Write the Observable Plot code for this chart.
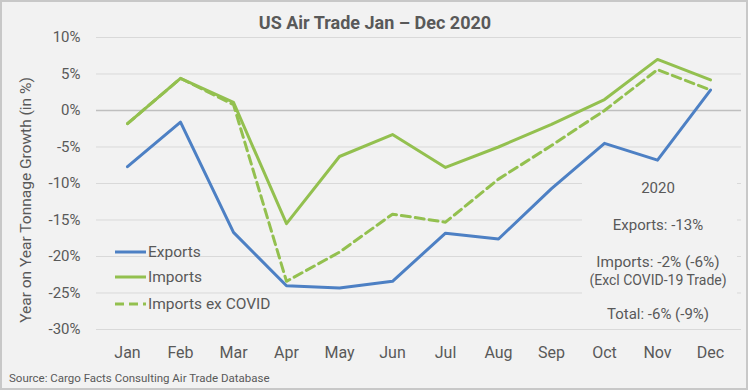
<!DOCTYPE html>
<html>
<head>
<meta charset="utf-8">
<script src="https://cdn.jsdelivr.net/npm/d3@7"></script>
<script src="https://cdn.jsdelivr.net/npm/@observablehq/plot@0.6"></script>
<style>
  html, body { margin: 0; padding: 0; background: #ffffff; }
  body { width: 750px; height: 392px; position: relative; overflow: hidden; font-family: Roboto, "Noto Sans", sans-serif; color: #595959; }
  #frame { position: absolute; left: 0; top: 0; width: 748px; height: 390px; box-sizing: border-box; border: 2px solid #c8c8c8; background: #f2f2f2; }
  #chart { position: absolute; left: 0; top: 0; }
  .abs { position: absolute; white-space: nowrap; line-height: 1; }
  #title { left: 0; width: 750px; top: 14px; text-align: center; font-weight: bold; font-size: 18px; color: #595959; }
  #ylabel { left: 27px; top: 200px; transform: translate(-50%, -50%) rotate(-90deg); font-size: 15.5px; }
  #source { left: 9px; top: 373px; font-size: 11.5px; }
  #legend .item { position: absolute; left: 115px; height: 20px; display: flex; align-items: center; font-size: 15.5px; }
  #legend svg { display: block; margin-right: 2px; }
  #mask { position: absolute; left: 582px; top: 170px; width: 155px; height: 150px; background: #f2f2f2; }
  .ann { position: absolute; left: 658px; transform: translate(-50%, -50%); font-size: 15px; white-space: nowrap; line-height: 1; }
</style>
</head>
<body>
<div id="frame"></div>
<div id="chart"></div>
<div id="mask"></div>
<div id="title" class="abs"></div>
<div id="ylabel" class="abs"></div>
<div id="source" class="abs"></div>
<div id="legend"></div>
<div id="annot"></div>
<script>
const months = ["Jan", "Feb", "Mar", "Apr", "May", "Jun", "Jul", "Aug", "Sep", "Oct", "Nov", "Dec"];
const exportsGrowth = [-7.7, -1.6, -16.7, -24.0, -24.3, -23.4, -16.8, -17.6, -10.7, -4.5, -6.8, 2.8];
const importsGrowth = [-1.8, 4.4, 1.1, -15.5, -6.3, -3.3, -7.8, -5.0, -1.9, 1.5, 7.0, 4.2];
const importsExCovidGrowth = [-1.8, 4.4, 0.8, -23.4, -19.4, -14.2, -15.3, -9.4, -4.8, 0.0, 5.6, 2.8];
const yTicks = [10, 5, 0, -5, -10, -15, -20, -25, -30];

const seriesNames = ["Exports", "Imports", "Imports ex COVID"];
const seriesColors = ["#4d80c4", "#93c04f", "#93c04f"];
const seriesDash = [null, null, "9,5"];

const titleText = "US Air Trade Jan \u2013 Dec 2020";
const yLabelText = "Year on Year Tonnage Growth (in %)";
const sourceText = "Source: Cargo Facts Consulting Air Trade Database";
const annotLines = ["2020", "Exports: -13%", "Imports: -2% (-6%)", "(Excl COVID-19 Trade)", "Total: -6% (-9%)"];

const toRows = (vals) => months.map((m, i) => ({month: m, value: vals[i]}));
const exportsRows = toRows(exportsGrowth);
const importsRows = toRows(importsGrowth);
const exCovidRows = toRows(importsExCovidGrowth);

const chart = Plot.plot({
  width: 750,
  height: 392,
  marginLeft: 96,
  marginRight: 9,
  marginTop: 37,
  marginBottom: 63,
  style: {background: "transparent", fontFamily: "Roboto, sans-serif", fontSize: "15px", color: "#595959", overflow: "visible"},
  x: {type: "point", domain: months, padding: 0.5, label: null},
  y: {domain: [-30, 10], label: null},
  marks: [
    Plot.ruleY(yTicks, {stroke: "#d9d9d9", strokeWidth: 1}),
    Plot.ruleY([0], {stroke: "#bfbfbf", strokeWidth: 1.5}),
    Plot.axisX({tickSize: 0, tickPadding: 17, label: null, fill: "#595959", fontSize: 16}),
    Plot.axisY({ticks: yTicks, tickSize: 0, tickPadding: 16, tickFormat: d => d + "%", label: null, fill: "#595959", fontSize: 15}),
    Plot.line(exportsRows, {x: "month", y: "value", stroke: seriesColors[0], strokeWidth: 3}),
    Plot.line(exCovidRows, {x: "month", y: "value", stroke: seriesColors[2], strokeWidth: 3, strokeDasharray: seriesDash[2]}),
    Plot.line(importsRows, {x: "month", y: "value", stroke: seriesColors[1], strokeWidth: 3})
  ]
});
document.getElementById("chart").appendChild(chart);

document.getElementById("title").textContent = titleText;
document.getElementById("ylabel").textContent = yLabelText;
document.getElementById("source").textContent = sourceText;

const legendTops = [242, 267, 294];
const legend = document.getElementById("legend");
seriesNames.forEach((name, i) => {
  const item = document.createElement("div");
  item.className = "item";
  item.style.top = legendTops[i] + "px";
  const dash = seriesDash[i] ? ` stroke-dasharray="${seriesDash[i]}"` : "";
  item.innerHTML = `<svg width="31" height="6"><line x1="0" y1="3" x2="31" y2="3" stroke="${seriesColors[i]}" stroke-width="3"${dash}/></svg><span></span>`;
  item.querySelector("span").textContent = name;
  legend.appendChild(item);
});

const annTops = [188, 225, 263, 280, 314];
const annSizes = [15, 15, 15.3, 14, 15];
const annot = document.getElementById("annot");
annotLines.forEach((t, i) => {
  const d = document.createElement("div");
  d.className = "ann";
  d.style.top = annTops[i] + "px";
  d.style.fontSize = annSizes[i] + "px";
  d.textContent = t;
  annot.appendChild(d);
});
</script>
</body>
</html>
